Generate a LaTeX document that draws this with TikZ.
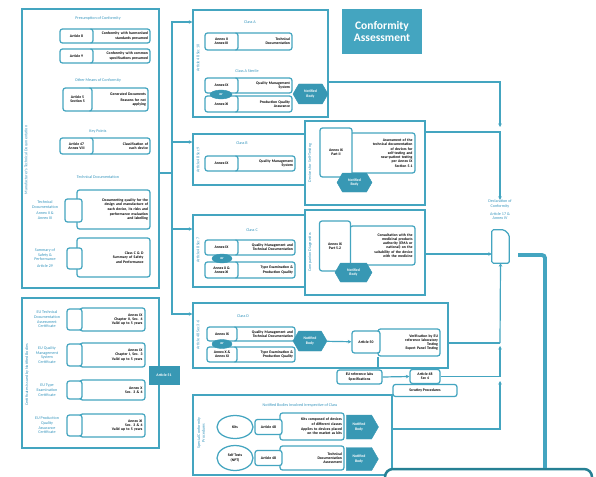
\documentclass[tikz,border=0pt]{standalone}
\usepackage{fontspec}
\setmainfont{Carlito}
\usetikzlibrary{shapes.symbols,shapes.geometric,arrows.meta}
\definecolor{tl}{RGB}{68,165,192}
\definecolor{tlh}{RGB}{56,152,180}
\definecolor{tld}{RGB}{38,128,148}
\definecolor{lbl}{RGB}{55,150,190}
\newcommand\txf{\fontsize{3.8}{4.3}\selectfont\bfseries}
\newcommand\lbf{\fontsize{4.1}{4.7}\selectfont}
\newcommand\prow[8]{%
  \node[pill, align=right, text width={(#4-#3)*1pt}, minimum width={(#4-#3+4)*1pt}, minimum height={(#6-#5)*1pt}] (#1b) at ({(#3-4+#4)/2},{(#5+#6)/2}) {#8};
  \node[pill, minimum width={(#3-#2)*1pt}, minimum height={(#6-#5)*1pt}] (#1a) at ({(#2+#3)/2},{(#5+#6)/2}) {#7};}
\tikzset{
  frame/.style={draw=tl, line width=1.3pt, inner sep=0pt},
  pill/.style={draw=tl, line width=1.25pt, rounded corners=2.5pt, fill=white, inner sep=0.8pt, align=center, font=\txf},
  rbody/.style={pill, align=right},
  nbhex/.style={shape=signal, signal to=east and west, signal pointer angle=120, fill=tlh, draw=tlh, text=white, font=\txf, align=center, inner sep=0pt},
  nbpent/.style={shape=signal, signal to=east, signal pointer angle=120, fill=tlh, draw=tlh, text=white, font=\txf, align=center, inner sep=0pt},
  orell/.style={ellipse, fill=tlh, draw=tlh, text=white, font=\txf, inner sep=0pt},
  wel/.style={ellipse, draw=tl, line width=1.25pt, fill=white, font=\txf, align=center, inner sep=0pt},
  conn/.style={draw=tl, line width=1.2pt},
  arr/.style={conn, -{Stealth[length=3.5pt,width=3.5pt]}},
  ttl/.style={font=\lbf, text=lbl, align=center, inner sep=0pt},
  side/.style={font=\lbf, text=lbl, rotate=90, align=center, inner sep=0pt}
}
\begin{document}
\begin{tikzpicture}[x=1pt,y=-1pt]
\useasboundingbox (0,0) rectangle (596,476);
\fill[white] (0,0) rectangle (596,476);
\clip (0,0) rectangle (596,476);

% ---------- Manufacturer documentation box ----------
\node[frame, minimum width=137pt, minimum height=279pt] (mfr) at (90.5,148.5) {};
\node[side] (mfrside) at (26,160) {Manufacturer's Technical Documentation};
\node[ttl] (t1) at (98,18) {Presumption of Conformity};
\prow{p1}{60}{93}{150}{29}{43}{Article 8}{Conformity with harmonised\\standards presumed}
\prow{p2}{60}{93}{150}{49}{63}{Article 9}{Conformity with common\\specifications presumed}
\node[ttl] (t2) at (98,80) {Other Means of Conformity};
\prow{p3}{63}{92}{148}{88}{111}{Article 5\\Section 5}{Generated Documents\\[1pt]Reasons for not\\applying}
\node[ttl] (t3) at (98,131) {Key Points};
\prow{p4}{60}{93}{150}{138}{154}{Article 47\\Annex VIII}{Classification of\\each device}
\node[ttl] (t4) at (98,177) {Technical Documentation};
\node[rbody, text width=69pt, minimum width=73pt, minimum height=39pt] (td) at (113.5,209.5) {Documenting quality for the\\design and manufacture of\\each device, its risks and\\[1pt]performance evaluation\\and labelling};
\node[pill, minimum width=17pt, minimum height=23pt] (tdt) at (73.5,210.5) {};
\node[ttl] (tdl) at (45,210) {Technical\\Documentation\\[1.5pt]Annex II \&\\Annex III};
\node[rbody, text width=60pt, minimum width=73pt, minimum height=39pt] (ss) at (113.5,257.5) {Class C \& D\\Summary of Safety\\[1pt]and Performance};
\node[pill, minimum width=15pt, minimum height=21pt] (sst) at (74.5,258.5) {};
\node[ttl] (ssl) at (45,258) {Summary of\\Safety \&\\Performance\\[1.5pt]Article 29};

% ---------- Certificates box ----------
\node[frame, minimum width=137pt, minimum height=150pt] (cert) at (90.5,373) {};
\node[side] (certside) at (27,375) {Certificates Issued by Notified Bodies};
\node[rbody, text width=60pt, minimum width=65pt, minimum height=23pt] (c1b) at (112.5,319.5) {Annex IX\\Chapter II, Sec. 4\\Valid up to 5 years};
\node[pill, minimum width=15pt, minimum height=21pt] (c1t) at (74.5,319.5) {};
\node[ttl] (c1l) at (47,319.5) {EU Technical\\Documentation\\Assessment\\Certificate};
\node[rbody, text width=60pt, minimum width=65pt, minimum height=24pt] (c2b) at (112.5,355) {Annex IX\\Chapter I, Sec. 3\\Valid up to 5 years};
\node[pill, minimum width=15pt, minimum height=22pt] (c2t) at (74.5,355) {};
\node[ttl] (c2l) at (47,355) {EU Quality\\Management\\System\\Certificate};
\node[rbody, text width=60pt, minimum width=65pt, minimum height=20pt] (c3b) at (112.5,390) {Annex X\\Sec. 3 \& 4};
\node[pill, minimum width=15pt, minimum height=18pt] (c3t) at (74.5,390) {};
\node[ttl] (c3l) at (47,390) {EU Type\\Examination\\Certificate};
\node[rbody, text width=60pt, minimum width=65pt, minimum height=23pt] (c4b) at (112.5,425.5) {Annex XI\\Sec. 3 \& 4\\Valid up to 5 years};
\node[pill, minimum width=15pt, minimum height=21pt] (c4t) at (74.5,425.5) {};
\node[ttl] (c4l) at (47,425.5) {EU Production\\Quality\\Assurance\\Certificate};
\node[fill=tlh, minimum width=31pt, minimum height=19pt, text=white, font=\txf, inner sep=0pt] (tag) at (164,375) {Article 51};

% ---------- Conformity Assessment title ----------
\node[fill=tl, minimum width=80pt, minimum height=45pt, text=white, align=center, font=\fontsize{11.5}{12.5}\selectfont\bfseries] (cat) at (382,31.5) {Conformity\\Assessment};

% ---------- Class A ----------
\node[frame, minimum width=135pt, minimum height=107pt] (A) at (260.5,63.5) {};
\node[ttl] (At) at (250,22) {Class A};
\node[side] (As) at (198,58) {Article 48 Sec 10};
\prow{a1}{205}{238}{292}{33}{50}{Annex II\\Annex III}{Technical\\Documentation}
\node[ttl] (At2) at (247,71) {Class A Sterile};
\prow{a2}{205}{238}{292}{78}{93}{Annex IX}{Quality Management\\System}
\prow{a3}{205}{238}{292}{96}{112}{Annex XI}{Production Quality\\Assurance}
\node[orell, minimum width=22pt, minimum height=9pt] (aor) at (221,94.5) {or};
\node[nbhex, minimum width=35pt, minimum height=20pt] (anb) at (310.5,94) {Notified\\Body};

% ---------- Class B ----------
\node[frame, minimum width=112pt, minimum height=51pt] (B) at (249,159.5) {};
\node[ttl] (Bt) at (242,143) {Class B};
\node[side] (Bs) at (198,160) {Article 48 Sec 9};
\prow{b1}{205}{238}{295}{156}{171}{Annex IX}{Quality Management\\System}
\node[frame, minimum width=120pt, minimum height=84pt] (RB) at (365,163) {};
\node[side] (RBs) at (310,163) {Devices for Self-Testing};
\node[rbody, text width=60pt, minimum width=65pt, minimum height=40pt] (rbb) at (382.5,153) {Assessment of the\\technical documentation\\of devices for\\self-testing and\\near-patient testing\\per Annex IX\\Section 5.1};
\node[pill, minimum width=32pt, minimum height=49pt] (rbt) at (336,152.5) {Annex IX\\Part II};
\node[nbhex, minimum width=35pt, minimum height=19pt] (rbnb) at (354.5,182.5) {Notified\\Body};

% ---------- Class C ----------
\node[frame, minimum width=112pt, minimum height=72pt] (C) at (249,251) {};
\node[ttl] (Ct) at (252,230) {Class C};
\node[side] (Cs) at (198,250) {Article 48 Sec 7};
\prow{c1}{205}{238}{295}{240}{255}{Annex IX}{Quality Management and\\Technical Documentation}
\prow{c2}{205}{238}{295}{262}{278}{Annex X \&\\Annex XI}{Type Examination \&\\Production Quality}
\node[orell, minimum width=20pt, minimum height=9pt] (cor) at (222,258.5) {or};
\node[frame, minimum width=120pt, minimum height=85pt] (RC) at (365,252.5) {};
\node[side] (RCs) at (310,252) {Companion Diagnostics};
\node[rbody, text width=60pt, minimum width=65pt, minimum height=39pt] (rcb) at (382.5,245.5) {Consultation with the\\medicinal products\\authority (EMA or\\national) on the\\suitability of the device\\with the medicine};
\node[pill, minimum width=31pt, minimum height=50pt] (rct) at (335,246) {Annex IX\\Part 5.2};
\node[nbhex, minimum width=37pt, minimum height=19pt] (rcnb) at (353.5,272.5) {Notified\\Body};

% ---------- Class D ----------
\node[frame, minimum width=255pt, minimum height=65pt] (D) at (320.5,335.5) {};
\node[ttl] (Dt) at (243,316) {Class D};
\node[side] (Ds) at (198,335) {Article 48 Sec 3-6};
\prow{d1}{207}{237}{295}{327}{341}{Annex IX}{Quality Management and\\Technical Documentation}
\prow{d2}{207}{237}{295}{347}{362}{Annex X \&\\Annex XI}{Type Examination \&\\Production Quality}
\node[orell, minimum width=20pt, minimum height=9pt] (dor) at (222,344) {or};
\node[nbhex, minimum width=34pt, minimum height=20pt] (dnb) at (310,341) {Notified\\Body};
\node[rbody, text width=58pt, minimum width=62pt, minimum height=27pt] (d50b) at (409,342.5) {Verification by EU\\reference laboratory\\Testing\\Expert Panel Testing};
\node[pill, minimum width=28pt, minimum height=22pt] (d50t) at (366,342) {Article 50};
\node[pill, minimum width=45pt, minimum height=14pt] (RL) at (359.5,377) {EU reference labs\\Specifications};
\node[pill, minimum width=64pt, minimum height=12pt] (scr) at (425,390.5) {Scrutiny Procedures};
\node[pill, minimum width=30pt, minimum height=14pt] (S1) at (425,376.5) {Article 48\\Sec 4};

% ---------- Notified bodies irrespective of class ----------
\node[frame, minimum width=199pt, minimum height=80pt] (NBB) at (292.5,435) {};
\node[ttl] (NBt) at (300,405) {Notified Bodies Involved Irrespective of Class};
\node[side] (NBs) at (201,433) {Special Conformity\\Procedures};
\node[wel, minimum width=36pt, minimum height=23pt] (k1) at (235,427) {Kits};
\node[rbody, text width=60pt, minimum width=64pt, minimum height=27pt] (k1b) at (312,426.5) {Kits composed of devices\\of different classes\\[1pt]Applies to devices placed\\on the market as kits};
\node[pill, minimum width=27pt, minimum height=15pt] (k1t) at (268.5,427) {Article 48};
\node[nbpent, minimum width=32pt, minimum height=24pt] (k1nb) at (359,427) {Notified\\Body};
\node[wel, minimum width=36pt, minimum height=25pt] (k2) at (235,458) {Self Tests\\(NPT)};
\node[rbody, text width=60pt, minimum width=64pt, minimum height=24pt] (k2b) at (312,458) {Technical\\Documentation\\Assessment};
\node[pill, minimum width=27pt, minimum height=15pt] (k2t) at (268.5,458) {Article 48};
\node[nbpent, minimum width=32pt, minimum height=23pt] (k2nb) at (359,459) {Notified\\Body};

% ---------- Declaration ----------
\node[ttl] (decl) at (500,210) {Declaration of\\Conformity\\[3pt]Article 17 \&\\Annex IV};
\node[minimum width=17pt, minimum height=33pt, inner sep=0pt] (doc) at (500.5,246.5) {};
\draw[tl, line width=1.2pt, rounded corners=1.5pt, fill=white] (doc.south west) -- (doc.north west) -- ([xshift=-5pt]doc.north east) -- ([yshift=-5pt]doc.north east) -- (doc.south east) -- cycle;

% ---------- CE box ----------
\node[draw=tld, line width=2.5pt, rounded corners=8pt, fill=white, minimum width=207pt, minimum height=30pt] (ce) at (488.5,484) {};

% ---------- connectors ----------
\coordinate (tj) at (172,173);
\coordinate (yA) at (0,22);
\coordinate (yB) at (0,142);
\coordinate (yC) at (0,229);
\coordinate (yD) at (0,314);
\draw[conn] (mfr.east |- tj) -- (tj);
\draw[arr] (tj) |- (A.west |- yA);
\draw[arr] (tj) |- (D.west |- yD);
\draw[arr] (tj |- yB) -- (B.west |- yB);
\draw[arr] (tj |- yC) -- (C.west |- yC);
\draw[arr] (dnb) -- (d50t);
\coordinate (v50) at (378,0);
\draw[conn] (d50b.south -| v50) -- (RL.north -| v50);
\draw[arr] (RL.east) -- (S1.west);

\coordinate (jA) at (500,127);
\coordinate (yA2) at (0,82);
\coordinate (yRB) at (0,132);
\coordinate (yRC) at (0,254);
\coordinate (yNB) at (0,429);
\coordinate (j1) at (500,381);
\coordinate (j2) at (500,377);
\coordinate (j3) at (500,346);
\coordinate (j4) at (500,343);
\draw[arr] (A.east |- yA2) -| (jA);
\draw[arr] (RB.east |- yRB) -| (decl.north);
\draw[arr] (RC.east |- yRC) -- (doc.west |- yRC);
\draw[arr] (NBB.east |- yNB) -| (j1);
\draw[conn] (S1.east) -- (S1.east -| j2);
\draw[arr] (S1.east -| j2) -- (j3);
\draw[conn] (D.east |- j4) -- (j4);
\draw[arr] (j4) -- (doc.south);

\coordinate (tk) at (518,255);
\coordinate (tkx) at (545,0);
\draw[tl, line width=3.8pt, rounded corners=3pt] (tk) -| (ce.north -| tkx);
\end{tikzpicture}
\end{document}
